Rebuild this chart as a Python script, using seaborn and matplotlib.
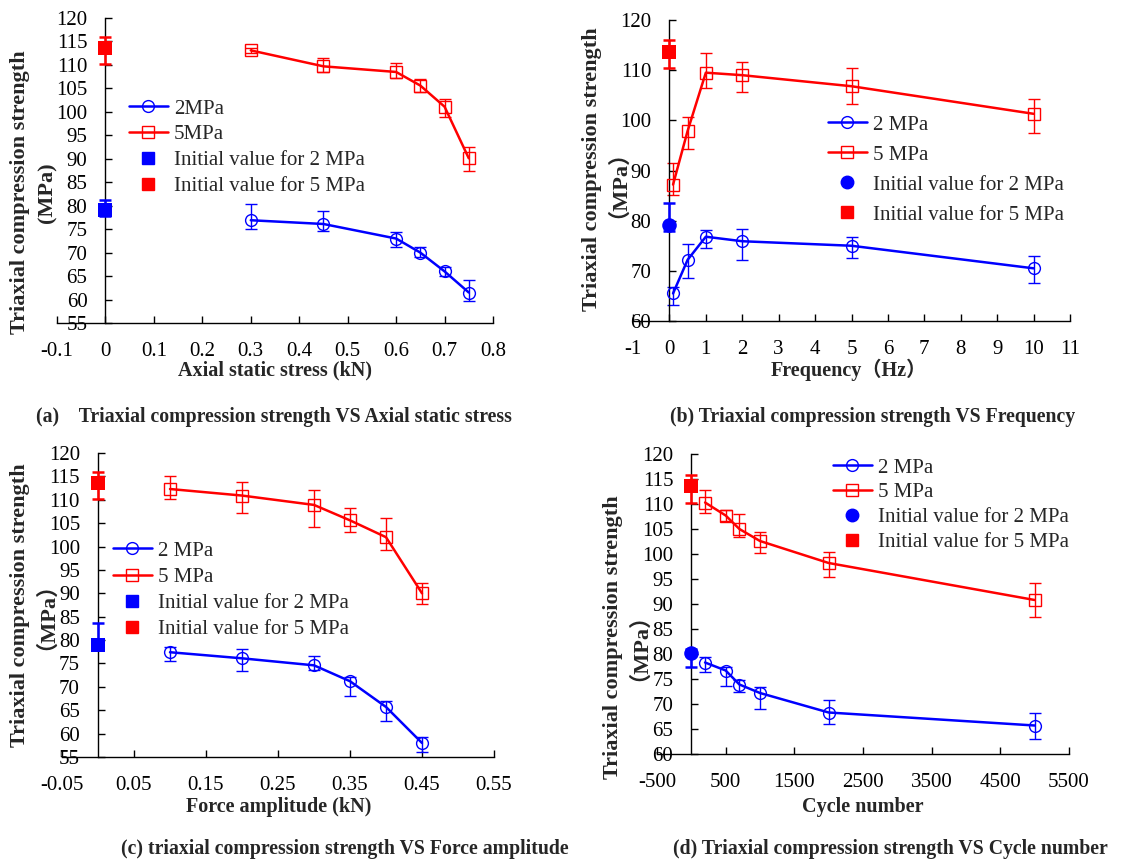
import numpy as np
import pandas as pd
import matplotlib
matplotlib.use("Agg")
import matplotlib.pyplot as plt
from matplotlib.lines import Line2D
import seaborn as sns

sns.set_style("ticks")
plt.rcParams['font.family'] = ['Liberation Serif', 'Noto Sans CJK SC', 'DejaVu Sans']

BLUE = '#0000FF'
RED = '#FF0000'

# ---------------- data ----------------
# (a) axial static stress
a_x = [0.3, 0.45, 0.6, 0.65, 0.7, 0.75]
a_2 = [76.9, 76.1, 73.0, 70.0, 66.0, 61.5]
a_2_lo = [75.0, 74.7, 71.3, 69.0, 65.0, 59.7]
a_2_hi = [80.4, 78.9, 74.3, 71.1, 67.0, 64.1]
a_5 = [113.1, 109.7, 108.5, 105.6, 101.1, 90.1]
a_5_lo = [112.6, 108.4, 107.2, 104.3, 99.0, 87.3]
a_5_hi = [113.6, 111.5, 110.5, 107.1, 102.8, 92.6]
a_init2 = [79.1, 77.7, 81.2]
a_init5 = [113.7, 110.2, 115.9]

# (b) frequency
b_x = [0.1, 0.5, 1, 2, 5, 10]
b_2 = [65.5, 72.2, 76.8, 75.9, 75.0, 70.5]
b_2_lo = [63.2, 68.6, 74.5, 72.2, 72.5, 67.5]
b_2_hi = [66.7, 75.3, 78.1, 78.3, 76.8, 73.0]
b_5 = [87.2, 97.9, 109.5, 109.0, 106.8, 101.3]
b_5_lo = [85.2, 94.3, 106.4, 105.6, 103.3, 97.4]
b_5_hi = [91.4, 100.6, 113.5, 111.7, 110.4, 104.3]
b_init2 = [79.1, 77.9, 83.6]
b_init5 = [113.7, 110.4, 116.0]

# (c) force amplitude
c_x = [0.1, 0.2, 0.3, 0.35, 0.4, 0.45]
c_2 = [77.4, 76.1, 74.6, 71.2, 65.7, 58.0]
c_2_lo = [75.6, 73.4, 73.6, 68.1, 62.7, 56.1]
c_2_hi = [78.6, 78.0, 76.6, 72.0, 67.0, 59.3]
c_5 = [112.3, 110.9, 108.9, 105.6, 102.0, 90.0]
c_5_lo = [110.2, 107.1, 104.1, 103.2, 99.3, 87.7]
c_5_hi = [115.0, 113.9, 112.0, 108.2, 106.2, 92.3]
c_init2 = [78.9, 77.9, 83.6]
c_init5 = [113.6, 110.2, 115.9]

# (d) cycle number
d_x = [200, 500, 700, 1000, 2000, 5000]
d_2 = [78.3, 76.7, 73.9, 72.2, 68.3, 65.7]
d_2_lo = [76.4, 73.7, 72.5, 69.1, 66.1, 63.1]
d_2_hi = [79.4, 77.4, 74.9, 73.5, 70.9, 68.2]
d_5 = [110.3, 107.7, 105.0, 102.6, 98.2, 90.8]
d_5_lo = [108.3, 106.7, 103.4, 100.2, 95.5, 87.5]
d_5_hi = [112.9, 108.8, 108.0, 104.5, 100.4, 94.3]
d_init2 = [80.2, 77.4, 81.0]
d_init5 = [113.6, 110.3, 115.9]

captions = [
    "(a)    Triaxial compression strength VS Axial static stress",
    "(b) Triaxial compression strength VS Frequency",
    "(c) triaxial compression strength VS Force amplitude",
    "(d) Triaxial compression strength VS Cycle number",
]
xlabels = ["Axial static stress (kN)", "Frequency\uff08Hz\uff09",
           "Force amplitude (kN)", "Cycle number"]
ylabel_main = "Triaxial compression strength"
ylabel_unit = ["(MPa)", "\uff08MPa\uff09", "\uff08MPa\uff09", "\uff08MPa\uff09"]
leg_labels = [["2MPa", "5MPa", "Initial value for 2 MPa", "Initial value for 5 MPa"],
              ["2 MPa", "5 MPa", "Initial value for 2 MPa", "Initial value for 5 MPa"],
              ["2 MPa", "5 MPa", "Initial value for 2 MPa", "Initial value for 5 MPa"],
              ["2 MPa", "5 MPa", "Initial value for 2 MPa", "Initial value for 5 MPa"]]

W, H = 1146, 866
fig = plt.figure(figsize=(W / 100, H / 100), dpi=100)


def rect(l, r, t, b):
    return [l / W, (H - b) / H, (r - l) / W, (b - t) / H]


def fx(px):
    return px / W


def fy(py):
    return (H - py) / H


panels = [
    dict(rect=rect(57, 493, 18, 323), x=a_x, s2=(a_2, a_2_lo, a_2_hi), s5=(a_5, a_5_lo, a_5_hi),
         i2=a_init2, i5=a_init5, xlim=(-0.1, 0.8), xticks=np.arange(-0.1, 0.81, 0.1),
         ylim=(55, 120), yticks=np.arange(55, 121, 5), m2i='s',
         leg=(129, 99), legsp=0.3, yl1=(20, 192), yl2=(47, 193), xlab=(275, 370), cap=(274, 417)),
    dict(rect=rect(633, 1070, 20, 321), x=b_x, s2=(b_2, b_2_lo, b_2_hi), s5=(b_5, b_5_lo, b_5_hi),
         i2=b_init2, i5=b_init5, xlim=(-1, 11), xticks=np.arange(-1, 11.1, 1),
         ylim=(60, 120), yticks=np.arange(60, 121, 10), m2i='o',
         leg=(828, 115), legsp=0.5, yl1=(592, 169), yl2=(607, 173), xlab=(849, 370), cap=(873, 417)),
    dict(rect=rect(62, 494, 453, 757), x=c_x, s2=(c_2, c_2_lo, c_2_hi), s5=(c_5, c_5_lo, c_5_hi),
         i2=c_init2, i5=c_init5, xlim=(-0.05, 0.55), xticks=np.arange(-0.05, 0.551, 0.1),
         ylim=(55, 120), yticks=np.arange(55, 121, 5), m2i='s',
         leg=(113, 541), legsp=0.32, yl1=(20, 605), yl2=(35, 605), xlab=(279, 807), cap=(345, 849)),
    dict(rect=rect(657, 1069, 454, 754), x=d_x, s2=(d_2, d_2_lo, d_2_hi), s5=(d_5, d_5_lo, d_5_hi),
         i2=d_init2, i5=d_init5, xlim=(-500, 5500), xticks=np.arange(-500, 5501, 1000),
         ylim=(60, 120), yticks=np.arange(60, 121, 5), m2i='o',
         leg=(833, 458), legsp=0.25, yl1=(613, 637), yl2=(628, 636), xlab=(863, 807), cap=(890, 849)),
]

TICK_FS = 15
LAB_FS = 14.5
YLAB_FS = 16
LEG_FS = 15
CAP_FS = 14.2

for k, p in enumerate(panels):
    ax = fig.add_axes(p['rect'])
    x = p['x']
    for (vals, lo, hi), col, mk in [(p['s2'], BLUE, 'o'), (p['s5'], RED, 's')]:
        vals = np.array(vals); lo = np.array(lo); hi = np.array(hi)
        ax.errorbar(x, vals, yerr=[vals - lo, hi - vals], fmt='none', ecolor=col,
                    elinewidth=1.0, capsize=4.5, capthick=1.0, zorder=2)
        df = pd.DataFrame({'x': x, 'y': vals})
        sns.lineplot(data=df, x='x', y='y', ax=ax, color=col, linewidth=1.8,
                     marker=mk, markersize=8.5,
                     markerfacecolor='none', markeredgecolor=col, markeredgewidth=1.0,
                     zorder=3, legend=False)
    for (v, lo, hi), col, mk in [(p['i2'], BLUE, p['m2i']), (p['i5'], RED, 's')]:
        ax.errorbar([0], [v], yerr=[[v - lo], [hi - v]], fmt='none', ecolor=col,
                    elinewidth=1.8, capsize=4.5, capthick=1.8, zorder=4)
        sns.scatterplot(x=[0], y=[v], ax=ax, color=col, marker=mk, s=110,
                        edgecolor=col, linewidth=0, zorder=5, legend=False)

    ax.set_xlim(*p['xlim'])
    ax.set_ylim(*p['ylim'])
    xt = np.round(p['xticks'], 6)
    ax.set_xticks(xt)
    ax.set_xticklabels(['{:g}'.format(v) for v in xt])
    ax.set_yticks(p['yticks'])
    ax.set_yticklabels(['{:g}'.format(v) for v in p['yticks']])

    ax.spines['top'].set_visible(False)
    ax.spines['right'].set_visible(False)
    ax.spines['left'].set_position(('data', 0))
    for s in ('left', 'bottom'):
        ax.spines[s].set_linewidth(1.0)
        ax.spines[s].set_color('black')
    ax.tick_params(axis='both', direction='in', length=5, width=1.0, colors='black',
                   labelsize=TICK_FS)
    ax.tick_params(axis='y', pad=13)
    ax.tick_params(axis='x', pad=14)
    ax.grid(False)
    ax.set_facecolor('white')

    # x label
    ax.set_xlabel(xlabels[k], fontsize=LAB_FS, fontweight='bold', va='center')
    ax.xaxis.set_label_coords(fx(p['xlab'][0]), fy(p['xlab'][1]), transform=fig.transFigure)

    # y label (two lines)
    ax.set_ylabel(ylabel_main, fontsize=YLAB_FS, fontweight='bold', va='center', ha='center')
    ax.yaxis.set_label_coords(fx(p['yl1'][0]), fy(p['yl1'][1]), transform=fig.transFigure)
    ax.text(fx(p['yl2'][0]), fy(p['yl2'][1]), ylabel_unit[k], transform=fig.transFigure,
            rotation=90, ha='center', va='center', rotation_mode='anchor',
            fontsize=YLAB_FS, fontweight='bold')

    handles = [
        Line2D([], [], color=BLUE, lw=1.8, marker='o', markersize=8.5, markerfacecolor='none',
               markeredgecolor=BLUE, markeredgewidth=1.0),
        Line2D([], [], color=RED, lw=1.8, marker='s', markersize=8.5, markerfacecolor='none',
               markeredgecolor=RED, markeredgewidth=1.0),
        Line2D([], [], color=BLUE, lw=0, marker=p['m2i'], markersize=9),
        Line2D([], [], color=RED, lw=0, marker='s', markersize=9),
    ]
    lx, ly = p['leg']
    ax.legend(handles, leg_labels[k], loc='upper left', frameon=False,
              bbox_to_anchor=(fx(lx), fy(ly)), bbox_transform=fig.transFigure,
              borderpad=0, borderaxespad=0, handlelength=1.85, handletextpad=0.3,
              labelspacing=p['legsp'], prop={'size': LEG_FS})

    cx, cy = p['cap']
    fig.text(fx(cx), fy(cy), captions[k], ha='center', va='center',
             fontsize=CAP_FS, fontweight='bold')

fig.savefig('out.png', dpi=100, facecolor='white')
